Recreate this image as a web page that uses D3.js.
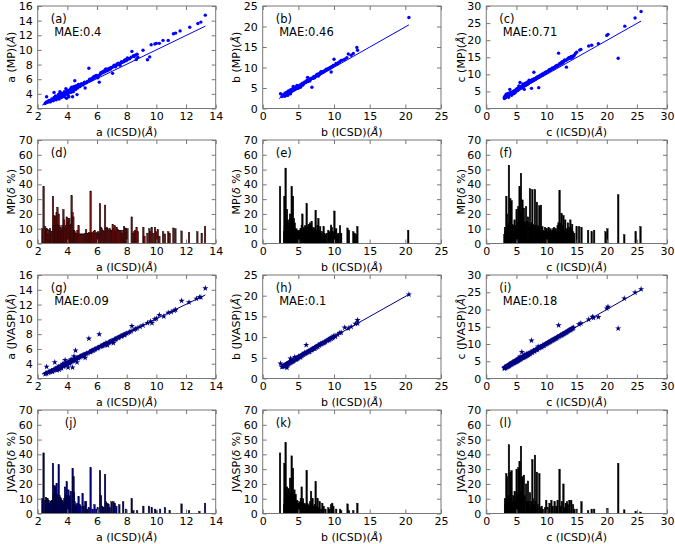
<!DOCTYPE html>
<html><head><meta charset="utf-8">
<script src="https://cdn.jsdelivr.net/npm/d3@7"></script>
<style>body{margin:0;background:#fff}svg{display:block}</style>
</head><body>
<svg id="c" width="675" height="544"></svg>
<script>
// ---------------- DATA ----------------
const ticksA = [2,4,6,8,10,12,14];
const ticksB = [0,5,10,15,20,25];
const ticksC = [0,5,10,15,20,25,30];
const ticksAY = [2,4,6,8,10,12,14,16];
const ticksPct = [0,10,20,30,40,50,60,70];
const axisNames = ["a","b","c"];
const panelLetters = ["(a)","(b)","(c)","(d)","(e)","(f)","(g)","(h)","(i)","(j)","(k)","(l)"];
const maeMP = ["MAE:0.4","MAE:0.46","MAE:0.71"];
const maeJV = ["MAE:0.09","MAE:0.1","MAE:0.18"];

// scatter: [ICSD, computed]
const mpA = [[2.5,2.7],[2.55,2.8],[2.6,3.6],[2.65,2.85],[2.7,2.9],[2.8,3.0],[2.85,2.9],[2.9,3.1],[3.0,3.2],[3.05,3.05],[3.1,4.2],[3.15,3.3],[3.2,3.4],[3.25,3.2],[3.3,3.6],[3.35,3.5],[3.4,3.9],[3.45,3.3],[3.5,3.7],[3.5,4.3],[3.55,3.8],[3.6,3.5],[3.65,4.0],[3.7,3.9],[3.75,4.1],[3.8,3.6],[3.85,4.2],[3.9,4.0],[3.9,4.7],[3.95,3.4],[4.0,4.1],[4.05,4.4],[4.1,4.2],[4.1,3.6],[4.15,4.5],[4.2,4.3],[4.25,4.8],[4.3,4.5],[4.35,3.6],[4.4,4.6],[4.45,5.0],[4.5,4.7],[4.5,5.8],[4.55,4.9],[4.6,4.8],[4.65,3.9],[4.7,5.0],[4.8,5.1],[4.9,5.2],[5.0,5.3],[5.1,5.4],[5.2,4.8],[5.3,5.6],[5.45,7.5],[5.5,5.8],[5.6,5.9],[5.7,6.0],[5.8,6.2],[5.9,6.3],[6.0,6.4],[6.1,6.5],[6.15,5.6],[6.2,6.6],[6.3,6.8],[6.35,7.0],[6.4,6.9],[6.5,7.0],[6.55,7.3],[6.6,7.1],[6.7,7.2],[6.8,7.3],[6.9,7.4],[7.0,7.6],[7.05,6.8],[7.1,7.7],[7.2,7.8],[7.3,7.9],[7.4,8.0],[7.5,8.1],[7.6,8.2],[7.7,8.3],[7.8,8.4],[7.9,8.5],[8.0,8.6],[8.05,8.9],[8.2,8.8],[8.35,9.8],[8.5,9.1],[8.6,9.3],[8.7,9.4],[8.75,9.0],[9.1,9.95],[9.4,8.65],[9.55,9.05],[9.65,10.7],[9.9,10.8],[10.0,10.9],[10.2,10.9],[10.45,11.3],[10.8,11.3],[11.15,12.2],[11.3,12.3],[11.6,12.6],[12.25,13.1],[12.8,13.6],[13.0,13.8],[13.3,14.75],
  [2.6,2.9],[2.75,3.1],[2.95,3.3],[3.1,3.5],[3.2,3.7],[3.3,3.4],[3.4,3.6],[3.45,4.0],[3.55,3.6],[3.6,4.1],[3.7,3.7],[3.8,4.3],[3.85,3.9],[3.95,4.2],[4.0,4.5],[4.05,3.8],[4.15,4.3],[4.2,4.6],[4.25,4.2],[4.3,4.9],[4.4,4.3],[4.45,4.7],[4.55,4.6],[4.6,5.1],[4.7,4.8],[4.75,5.3],[4.85,5.0],[4.95,5.4],[5.05,5.2],[5.15,5.6],[5.25,5.5],[5.35,5.7],[5.5,6.0],[5.65,6.1],[5.75,6.3],[5.85,6.4],[5.95,6.5],[6.05,6.2],[6.25,6.9],[6.45,7.1],[6.6,7.4],[6.75,7.4],[6.85,7.5],[6.95,7.6],[7.15,7.9],[7.25,7.7],[7.35,8.1],[7.45,8.2],[7.55,7.9],[7.65,8.4],[7.85,8.6],[7.95,8.7],[8.1,8.8],[8.3,9.0],[8.45,9.2],[8.65,8.7]];
const mpB = [[2.5,3.6],[2.7,2.9],[2.9,3.2],[3.0,3.5],[3.1,3.0],[3.2,3.4],[3.3,3.8],[3.4,3.5],[3.5,4.0],[3.5,3.2],[3.6,4.3],[3.7,3.9],[3.8,4.1],[3.9,4.5],[3.9,3.6],[4.0,4.2],[4.1,4.6],[4.2,4.4],[4.3,4.8],[4.3,5.4],[4.4,4.5],[4.5,5.0],[4.6,4.7],[4.7,5.2],[4.8,5.6],[4.9,4.9],[5.0,5.4],[5.2,5.5],[5.3,5.2],[5.4,5.8],[5.5,6.0],[5.6,5.7],[5.8,6.2],[5.9,6.5],[6.0,6.3],[6.2,6.6],[6.3,7.6],[6.4,6.8],[6.5,7.0],[6.6,6.7],[6.8,7.3],[6.9,5.2],[7.0,7.4],[7.2,7.7],[7.3,7.5],[7.4,7.9],[7.6,8.1],[7.7,8.3],[7.8,7.9],[8.0,8.5],[8.1,8.8],[8.3,8.7],[8.4,9.0],[8.6,9.1],[8.8,9.3],[9.0,9.5],[9.2,9.7],[9.4,9.8],[9.6,8.9],[9.7,10.2],[9.9,10.5],[10.0,12.0],[10.2,10.7],[10.5,10.9],[10.8,11.4],[11.0,11.7],[11.5,12.0],[12.0,13.3],[12.4,13.0],[12.7,13.4],[13.2,14.9],[13.3,14.2],[20.5,22.2],
  [2.8,3.3],[3.0,3.1],[3.1,3.6],[3.2,3.8],[3.3,3.3],[3.4,4.0],[3.5,3.7],[3.6,3.5],[3.7,4.2],[3.8,3.8],[3.9,4.1],[4.0,4.6],[4.1,4.2],[4.2,4.8],[4.3,4.5],[4.4,5.0],[4.5,4.7],[4.6,5.1],[4.7,4.9],[4.8,5.2],[4.9,5.5],[5.0,5.0],[5.1,5.5],[5.3,5.8],[5.5,5.8],[5.6,6.2],[5.7,6.0],[5.9,6.3],[6.1,6.5],[6.2,6.9],[6.3,6.6],[6.5,6.8],[6.6,7.1],[6.7,7.2],[6.9,7.4],[7.1,7.4],[7.2,7.8],[7.5,7.9],[7.6,8.3],[7.8,8.4],[7.9,8.2],[8.1,8.5],[8.2,9.0],[8.5,8.9],[8.7,9.2],[8.9,9.6],[9.1,9.5],[9.3,9.8],[9.5,10.1],[9.8,10.3],[10.3,11.0],[10.6,11.2],[11.2,11.8],[11.8,12.4]];
const mpC = [[3.0,2.9],[3.1,3.6],[3.2,3.2],[3.3,4.2],[3.4,3.5],[3.5,3.9],[3.6,4.4],[3.7,3.3],[3.8,4.1],[3.9,5.6],[4.0,4.3],[4.1,4.7],[4.2,3.9],[4.3,4.6],[4.5,5.0],[4.6,4.4],[4.7,5.2],[4.8,4.7],[4.9,5.4],[5.0,5.1],[5.1,5.8],[5.2,5.3],[5.3,6.0],[5.4,6.6],[5.5,5.7],[5.6,7.6],[5.7,6.2],[5.8,6.0],[5.9,6.5],[6.0,6.3],[6.1,7.2],[6.2,6.6],[6.3,5.6],[6.4,6.8],[6.5,7.4],[6.6,6.9],[6.7,7.0],[6.8,7.7],[6.9,7.2],[7.0,7.5],[7.1,8.3],[7.2,7.6],[7.4,7.8],[7.5,5.9],[7.6,8.1],[7.8,8.2],[7.9,10.6],[8.0,8.5],[8.2,8.7],[8.4,9.0],[8.6,9.1],[8.7,6.1],[8.8,9.4],[9.0,9.6],[9.2,9.7],[9.4,9.9],[9.6,10.2],[9.8,10.3],[10.0,10.6],[10.2,10.8],[10.4,11.0],[10.6,11.2],[10.8,11.5],[11.0,11.7],[11.2,11.8],[11.4,12.1],[11.6,12.3],[11.8,12.4],[12.0,16.2],[12.1,12.8],[12.3,13.1],[12.5,13.5],[12.7,13.3],[12.9,13.9],[13.1,14.0],[13.3,12.1],[13.4,14.3],[13.6,14.6],[13.8,14.8],[14.0,15.0],[14.2,14.8],[14.4,15.3],[14.6,15.6],[15.0,16.5],[15.5,17.1],[15.7,17.3],[17.0,18.3],[17.5,18.5],[18.6,19.0],[20.0,21.4],[20.2,21.7],[21.9,14.7],[23.0,24.1],[24.7,26.5],[25.7,28.4],
  [3.0,3.3],[3.1,3.1],[3.2,3.6],[3.3,3.4],[3.4,3.9],[3.5,3.6],[3.6,4.0],[3.7,3.8],[3.8,4.5],[3.9,4.0],[4.0,4.6],[4.1,4.3],[4.2,4.7],[4.3,4.3],[4.4,4.9],[4.5,4.6],[4.6,5.1],[4.7,4.8],[4.8,5.3],[4.9,5.0],[5.0,5.6],[5.1,5.3],[5.2,5.8],[5.3,5.5],[5.4,6.0],[5.5,6.2],[5.6,5.9],[5.7,6.4],[5.8,6.3],[5.9,6.1],[6.0,6.7],[6.1,6.4],[6.2,6.9],[6.3,6.6],[6.4,7.1],[6.5,6.9],[6.6,7.3],[6.7,7.2],[6.8,7.4],[6.9,7.6],[7.0,7.3],[7.1,7.8],[7.3,7.9],[7.4,8.1],[7.5,7.9],[7.6,8.4],[7.7,8.1],[7.8,8.6],[8.0,8.7],[8.1,8.5],[8.3,9.0],[8.5,9.3],[8.7,9.3],[8.9,9.7],[9.1,9.8],[9.3,10.1],[9.5,10.1],[9.7,10.5],[9.9,10.7],[10.1,10.7],[10.3,11.1],[10.5,11.4],[10.7,11.3],[10.9,11.8],[11.1,11.9],[11.3,12.0],[11.5,12.4],[11.7,12.6],[11.9,12.7],[12.2,13.2],[12.4,13.1],[12.6,13.7],[12.8,13.7],[13.0,14.2],[13.2,14.1],[13.5,14.5],[13.7,14.9],[13.9,14.7],[14.1,15.2],[14.3,15.0],[14.5,15.4],[14.8,16.1]];
const jvA = [[2.5,2.6],[2.55,2.7],[2.6,3.6],[2.7,2.8],[2.8,2.9],[2.9,3.0],[3.0,2.9],[3.1,3.2],[3.15,4.2],[3.2,3.3],[3.3,3.1],[3.35,3.4],[3.4,3.6],[3.45,3.2],[3.5,3.5],[3.55,3.7],[3.6,3.4],[3.65,3.8],[3.7,4.0],[3.75,3.6],[3.8,3.9],[3.85,4.5],[3.9,3.8],[3.95,4.0],[4.0,4.1],[4.05,3.5],[4.1,4.2],[4.15,4.0],[4.2,4.3],[4.25,4.6],[4.3,4.4],[4.35,3.5],[4.4,4.5],[4.45,5.0],[4.5,4.6],[4.55,5.8],[4.6,4.7],[4.65,4.2],[4.7,4.8],[4.8,4.9],[4.9,5.0],[5.0,5.1],[5.1,5.2],[5.2,4.8],[5.3,5.4],[5.45,7.4],[5.5,5.6],[5.6,5.7],[5.7,5.8],[5.8,5.9],[5.9,6.0],[6.0,6.1],[6.1,6.2],[6.15,8.0],[6.2,6.3],[6.3,6.4],[6.4,6.5],[6.5,6.6],[6.6,6.8],[6.7,6.5],[6.8,6.9],[6.9,7.0],[7.0,7.1],[7.1,6.8],[7.2,7.3],[7.3,7.4],[7.4,7.5],[7.5,7.6],[7.6,7.7],[7.7,7.8],[7.8,7.9],[7.9,8.0],[8.0,8.1],[8.2,8.3],[8.35,9.1],[8.5,8.6],[8.6,8.7],[8.7,8.8],[8.9,9.0],[9.1,9.2],[9.4,9.5],[9.6,9.7],[9.7,9.5],[9.9,10.0],[10.0,10.1],[10.2,10.6],[10.5,10.4],[10.8,10.9],[11.0,11.0],[11.2,11.2],[11.3,11.3],[11.7,12.5],[12.2,12.3],[12.7,12.8],[12.9,13.0],[13.0,13.0],[13.3,14.2],
  [2.6,2.7],[2.75,2.85],[2.95,3.05],[3.05,3.1],[3.15,3.25],[3.25,3.3],[3.35,3.5],[3.45,3.55],[3.5,3.4],[3.55,3.6],[3.6,3.7],[3.7,3.75],[3.75,3.85],[3.8,3.75],[3.85,3.95],[3.9,4.0],[3.95,4.05],[4.0,3.95],[4.05,4.15],[4.1,4.15],[4.15,4.25],[4.2,4.2],[4.25,4.35],[4.3,4.3],[4.35,4.45],[4.4,4.4],[4.45,4.55],[4.5,4.5],[4.6,4.65],[4.7,4.75],[4.75,4.8],[4.85,4.9],[4.95,5.0],[5.05,5.1],[5.15,5.2],[5.25,5.3],[5.4,5.45],[5.55,5.6],[5.65,5.75],[5.75,5.8],[5.85,5.95],[6.05,6.1],[6.25,6.35],[6.35,6.4],[6.45,6.55],[6.55,6.6],[6.65,6.7],[6.75,6.8],[6.85,6.95],[6.95,7.0],[7.05,7.1],[7.15,7.2],[7.25,7.3],[7.45,7.5],[7.65,7.7],[7.85,7.9],[8.1,8.2],[8.3,8.4]];
const jvB = [[2.5,3.6],[2.7,2.8],[2.9,3.0],[3.0,2.9],[3.1,3.2],[3.2,3.1],[3.3,3.4],[3.4,2.6],[3.5,3.6],[3.5,3.3],[3.6,3.7],[3.7,3.9],[3.8,3.7],[3.9,4.0],[3.9,4.8],[4.0,4.1],[4.1,4.3],[4.2,4.1],[4.3,4.4],[4.4,4.6],[4.5,5.2],[4.6,4.7],[4.7,4.6],[4.8,4.9],[4.9,5.0],[5.0,5.3],[5.2,5.3],[5.3,5.1],[5.4,5.6],[5.5,5.5],[5.6,5.8],[5.8,5.9],[5.9,6.2],[6.0,6.1],[6.1,8.1],[6.2,6.3],[6.4,6.5],[6.5,6.7],[6.6,6.5],[6.8,6.9],[6.9,7.0],[7.0,7.2],[7.2,7.3],[7.3,7.2],[7.4,7.6],[7.6,7.7],[7.7,7.8],[7.8,8.1],[8.0,8.1],[8.1,8.4],[8.3,8.4],[8.4,8.6],[8.6,8.7],[8.8,8.9],[9.0,9.1],[9.2,9.4],[9.4,9.5],[9.6,9.6],[9.7,9.9],[9.9,10.0],[10.0,10.3],[10.2,10.1],[10.5,10.6],[10.8,11.0],[11.0,11.1],[11.5,12.3],[12.0,12.1],[12.4,12.5],[13.0,13.2],[13.3,14.1],[13.3,13.3],[20.5,20.3],
  [2.8,2.9],[3.0,3.1],[3.1,3.1],[3.2,3.3],[3.3,3.3],[3.4,3.5],[3.5,3.5],[3.6,3.6],[3.7,3.7],[3.8,3.9],[3.9,3.9],[4.0,4.0],[4.1,4.1],[4.2,4.3],[4.3,4.3],[4.4,4.4],[4.5,4.6],[4.6,4.6],[4.7,4.8],[4.8,4.8],[4.9,4.9],[5.0,5.1],[5.1,5.2],[5.3,5.4],[5.5,5.7],[5.7,5.8],[5.9,6.0],[6.1,6.2],[6.3,6.4],[6.5,6.5],[6.7,6.8],[6.9,6.9],[7.1,7.2],[7.3,7.4],[7.5,7.5],[7.7,7.7],[7.9,8.0],[8.2,8.3],[8.5,8.6],[8.7,8.8],[9.1,9.2],[9.3,9.3],[9.5,9.7],[9.8,9.8]];
const jvC = [[3.0,2.9],[3.1,3.3],[3.2,3.1],[3.3,3.5],[3.4,3.3],[3.5,3.7],[3.6,3.5],[3.7,3.9],[3.8,3.7],[3.9,4.1],[4.0,4.0],[4.1,4.4],[4.2,4.1],[4.3,4.6],[4.5,4.4],[4.6,4.9],[4.7,4.6],[4.8,5.2],[4.9,4.8],[5.0,5.3],[5.1,5.0],[5.2,5.6],[5.3,5.2],[5.4,5.9],[5.5,5.4],[5.6,6.3],[5.7,5.6],[5.8,6.1],[5.9,7.7],[6.0,6.0],[6.1,6.4],[6.2,6.1],[6.3,6.9],[6.4,6.3],[6.5,6.7],[6.6,6.5],[6.7,7.1],[6.8,6.7],[6.9,7.2],[7.0,6.9],[7.1,7.4],[7.2,7.1],[7.4,7.6],[7.5,11.0],[7.6,7.5],[7.8,8.1],[8.0,7.9],[8.2,8.4],[8.4,8.3],[8.6,9.3],[8.8,8.9],[9.0,9.2],[9.2,9.1],[9.4,9.6],[9.6,9.5],[9.8,10.0],[10.0,10.1],[10.2,10.3],[10.4,10.5],[10.6,10.7],[10.8,11.0],[11.0,11.1],[11.2,11.3],[11.4,11.6],[11.6,11.7],[11.8,12.0],[12.0,15.4],[12.1,12.2],[12.3,12.5],[12.5,12.6],[12.7,12.9],[12.9,13.0],[13.1,13.3],[13.3,13.4],[13.5,13.7],[13.7,13.9],[13.9,14.1],[14.1,14.3],[14.3,14.5],[14.5,14.8],[15.4,15.7],[15.7,16.0],[17.0,17.1],[17.6,17.9],[17.8,17.6],[18.6,17.8],[20.0,20.3],[20.2,20.8],[21.9,14.5],[22.9,23.2],[24.7,24.9],[25.7,25.9],
  [3.0,3.1],[3.1,3.1],[3.2,3.3],[3.3,3.3],[3.4,3.5],[3.5,3.5],[3.6,3.7],[3.7,3.7],[3.8,3.9],[3.9,3.9],[4.0,4.2],[4.1,4.1],[4.2,4.3],[4.3,4.3],[4.4,4.5],[4.5,4.6],[4.6,4.6],[4.7,4.8],[4.8,4.8],[4.9,5.0],[5.0,5.0],[5.1,5.2],[5.2,5.2],[5.3,5.4],[5.4,5.4],[5.5,5.6],[5.6,5.6],[5.7,5.8],[5.8,5.8],[5.9,6.0],[6.0,6.1],[6.1,6.1],[6.2,6.3],[6.3,6.3],[6.4,6.5],[6.5,6.5],[6.6,6.7],[6.7,6.7],[6.8,6.9],[6.9,6.9],[7.0,7.1],[7.2,7.3],[7.3,7.3],[7.5,7.6],[7.7,7.7],[7.9,8.0],[8.1,8.2],[8.3,8.4],[8.5,8.5],[8.7,8.8],[8.9,9.0],[9.1,9.2],[9.3,9.4],[9.5,9.6],[9.7,9.8],[9.9,10.0],[10.1,10.2],[10.3,10.4],[10.5,10.6],[10.7,10.8],[10.9,11.0],[11.1,11.2],[11.3,11.4],[11.5,11.6],[11.7,11.8],[11.9,12.0],[12.2,12.3],[12.4,12.5],[12.6,12.7],[12.8,12.9],[13.0,13.1],[13.2,13.3],[13.4,13.5],[13.6,13.8],[13.8,14.0],[14.0,14.1],[14.2,14.4],[14.4,14.6]];

// fitted lines: [start, end]
const fitMpA = [[2.3,2.45],[13.3,13.25]];
const fitMpB = [[2.3,2.45],[20.5,20.4]];
const fitMpC = [[2.9,2.9],[25.7,25.6]];
const fitJvA = [[2.3,2.6],[13.3,13.3]];
const fitJvB = [[2.45,2.8],[20.5,20.3]];
const fitJvC = [[3.0,3.0],[25.7,25.7]];

// bars: [ICSD value, delta %]
const barMpA = [[2.31,10],[2.40,38.5],[2.5,11.5],[2.55,9],[2.6,10],[2.67,9.5],[2.72,6],[2.78,9],[2.83,10],[2.9,6],[2.95,8],[3.03,32],[3.08,12],[3.12,19],[3.17,18.5],[3.22,12],[3.28,21],[3.33,24.5],[3.38,13],[3.42,20],[3.47,12],[3.52,11],[3.57,10],[3.62,9],[3.67,12],[3.73,23],[3.78,16],[3.83,10],[3.9,12],[3.96,18],[4.01,14],[4.07,17],[4.13,17],[4.18,12],[4.24,13],[4.29,32.5],[4.35,21],[4.4,18],[4.45,9],[4.5,8],[4.55,7],[4.62,7],[4.68,9],[4.76,12],[4.82,6.5],[4.9,6.5],[4.97,6.5],[5.05,6.5],[5.12,6.5],[5.2,7],[5.26,9.5],[5.33,7],[5.4,7],[5.47,7.5],[5.57,35.5],[5.63,7],[5.7,7.5],[5.78,8],[5.85,9],[5.92,7],[6.0,7.5],[6.07,8],[6.13,7],[6.2,27],[6.27,11],[6.33,10],[6.4,9],[6.47,8],[6.54,26],[6.6,10],[6.67,11],[6.73,10],[6.8,9],[6.87,10],[6.95,9],[7.0,9],[7.06,13],[7.13,10],[7.2,12],[7.27,8],[7.33,11],[7.4,9.5],[7.47,9],[7.55,9],[7.62,9],[7.7,7],[7.76,9],[7.82,11.5],[7.9,10.5],[7.96,10],[8.05,10],[8.34,18],[8.42,7],[8.5,8],[8.58,9],[8.67,11],[8.75,8],[9.12,11],[9.2,5],[9.4,7],[9.53,10],[9.6,8],[9.69,11],[9.8,7],[9.91,11],[10.0,8],[10.1,9.5],[10.2,5],[10.45,8],[10.58,6.5],[10.8,8],[10.9,7],[11.15,10.5],[11.28,10],[11.7,8.5],[12.2,7.5],[12.76,8],[13.06,7],[13.28,11.5]];
const barMpB = [[2.43,38.5],[3.0,8],[3.04,32],[3.1,12],[3.15,7],[3.22,51],[3.3,15],[3.36,10],[3.41,23],[3.47,12],[3.55,16],[3.62,11],[3.7,14],[3.76,9],[3.83,20],[3.9,17],[3.96,12],[4.02,16],[4.07,38.5],[4.13,17],[4.19,13],[4.25,32],[4.31,12],[4.38,17],[4.44,10],[4.5,14],[4.58,9],[4.65,8],[4.72,10],[4.8,7],[4.88,8],[4.95,9],[5.02,8],[5.1,7],[5.18,9],[5.25,8],[5.32,10],[5.4,9],[5.48,12],[5.56,20],[5.63,9],[5.7,11],[5.78,8],[5.86,10],[5.94,12],[6.02,11],[6.1,9],[6.17,27],[6.25,12],[6.33,10],[6.4,11],[6.48,13],[6.56,10],[6.63,14],[6.7,9],[6.78,12],[6.87,15],[6.95,10],[7.03,8],[7.1,11],[7.2,9],[7.3,10],[7.43,22.5],[7.5,9],[7.6,8],[7.7,12],[7.8,17],[7.9,9],[8.0,8],[8.05,11.5],[8.15,7],[8.3,8],[8.4,6],[8.55,11.5],[8.65,7],[8.8,6],[9.0,7],[9.2,9],[9.35,8],[9.45,7],[9.58,12.5],[9.7,11],[9.85,8],[9.95,7],[10.05,22],[10.15,9],[10.3,10],[10.45,6],[10.6,7],[10.84,12],[11.0,7],[11.9,10.5],[12.1,9],[12.7,8],[12.9,7],[13.1,6],[13.27,11.5],[20.4,9]];
const barMpC = [[3.0,6],[3.1,11],[3.2,8],[3.32,32],[3.43,20],[3.5,10],[3.6,12],[3.68,9],[3.76,53],[3.87,14],[3.98,30.5],[4.05,12],[4.2,29],[4.3,13],[4.45,12.5],[4.55,8],[4.7,16],[4.8,10],[4.9,12],[5.04,23],[5.15,14],[5.3,25],[5.4,18],[5.53,38.5],[5.65,22],[5.76,47.5],[5.88,20],[6.0,29.5],[6.1,18],[6.25,24],[6.35,15],[6.48,12],[6.6,25],[6.75,15],[6.92,18],[7.1,14],[7.25,37],[7.35,12],[7.5,14],[7.64,36.5],[7.75,13],[7.9,12],[8.08,36.5],[8.2,12],[8.3,10],[8.4,28],[8.55,10],[8.65,12],[8.8,25.5],[8.95,9],[9.08,26],[9.2,8],[9.3,11.5],[9.45,9],[9.6,8],[9.75,11],[9.9,9],[10.05,10],[10.2,8],[10.35,11],[10.5,9],[10.65,10],[10.8,8],[10.95,9],[11.1,10],[11.25,11],[11.4,9],[11.55,10],[11.7,8],[11.85,12],[12.0,14],[12.17,36],[12.3,14],[12.5,20.5],[12.65,12],[12.8,19],[12.95,9],[13.1,16],[13.25,8],[13.4,10],[13.55,14],[13.7,9],[13.8,11],[13.95,16],[14.1,10],[14.25,13],[14.4,8],[14.6,7],[15.0,11.5],[15.4,11.5],[15.8,11],[16.9,9],[17.5,8],[17.9,9],[19.8,8],[20.1,10],[21.9,33],[22.9,6],[24.8,8],[25.6,11.5]];
const barJvA = [[2.31,10],[2.4,41],[2.5,9],[2.56,11],[2.62,10],[2.67,10],[2.74,9],[2.8,7],[2.88,8],[2.95,9],[3.03,34],[3.08,12],[3.12,19],[3.17,18.5],[3.22,17],[3.28,20.5],[3.33,13],[3.42,33],[3.47,12],[3.52,11],[3.58,10],[3.65,9],[3.72,8],[3.79,10],[3.84,18],[3.9,12],[3.96,21.5],[4.02,12],[4.07,16],[4.13,12],[4.18,10],[4.24,15],[4.36,30.5],[4.42,25],[4.45,14],[4.5,8],[4.56,5],[4.62,6],[4.68,7],[4.76,11.5],[4.85,6],[4.9,5],[5.03,13.5],[5.1,5],[5.2,8],[5.26,8],[5.35,3],[5.45,4],[5.57,31],[5.7,3],[5.83,6],[5.95,3],[6.05,4],[6.2,29],[6.27,12],[6.35,5],[6.45,4],[6.54,26.5],[6.6,8],[6.7,7],[6.78,6],[6.86,4],[6.98,8],[7.1,8],[7.2,7],[7.3,5],[7.5,6],[7.76,8],[7.95,3],[8.34,10],[8.45,2],[8.7,2],[9.12,5],[9.5,5],[9.69,4],[9.91,3],[10.0,2],[10.25,3],[10.58,4],[10.9,2],[11.7,6.5],[12.2,2],[12.9,1.5],[13.28,7]];
const barJvB = [[2.43,41],[3.0,6],[3.04,34],[3.1,10],[3.15,8],[3.22,48],[3.3,14],[3.41,18],[3.5,12],[3.6,17],[3.7,10],[3.83,24],[3.9,14],[3.96,12],[4.07,39],[4.13,14],[4.25,30.5],[4.3,12],[4.44,16],[4.5,10],[4.63,13],[4.7,8],[4.83,9],[4.95,7],[5.05,6],[5.15,8],[5.25,7],[5.35,10],[5.47,18],[5.55,8],[5.65,10],[5.75,6],[5.86,7],[5.95,6],[6.05,5],[6.17,29],[6.25,7],[6.4,6],[6.55,5],[6.65,8],[6.78,15],[6.9,6],[7.0,10],[7.15,5],[7.3,6],[7.43,21.5],[7.55,5],[7.7,10],[7.85,4],[8.0,8],[8.2,3],[8.35,7],[8.55,5],[8.8,3],[9.2,4],[9.35,3],[9.58,6],[9.75,7],[9.9,5],[10.3,3],[10.84,3],[11.0,2],[11.9,6.5],[12.1,2],[12.7,2],[13.27,7]];
const barJvC = [[3.1,10],[3.2,6],[3.32,27],[3.43,25],[3.55,8],[3.65,12],[3.76,46.5],[3.87,10],[3.98,28],[4.08,12],[4.2,29],[4.32,8],[4.45,12],[4.6,9],[4.72,15],[4.85,8],[5.0,14],[5.04,30],[5.15,12],[5.32,31],[5.42,12],[5.53,35],[5.65,14],[5.76,45.5],[5.88,15],[6.0,25],[6.1,10],[6.25,26],[6.38,12],[6.6,20],[6.75,8],[6.92,22],[7.05,8],[7.25,14],[7.4,5],[7.5,8],[7.64,36.5],[7.75,10],[7.9,6],[8.08,39.5],[8.2,8],[8.4,28],[8.55,6],[8.8,27],[8.95,4],[9.2,5],[9.4,3],[9.75,4],[9.95,9],[10.2,4],[10.5,7],[10.8,9],[11.05,5],[11.35,8],[11.6,5],[11.85,9],[12.17,30],[12.35,5],[12.55,8],[12.8,20],[12.95,4],[13.2,7],[13.4,8],[13.55,6],[13.8,9],[14.1,9],[14.4,6],[14.6,3],[15.0,3],[15.8,8],[16.9,2],[17.5,3],[17.9,3],[20.1,3.5],[21.9,34],[22.9,2.5],[24.8,1.5],[25.6,1]];

// ---------------- LAYOUT ----------------
const FONT = "'DejaVu Sans', Verdana, sans-serif";
const colL = [37.7, 262.7, 486.3], colR = [215.7, 441, 667];
const rowT = [6, 140, 275, 410], PH = 103.5;
const rowH = [102.5, PH, PH, PH];
const frameColor = "#777";
const xDomains = [[2,14],[0,25],[0,30]];
const xTickSets = [ticksA, ticksB, ticksC];
const yScatterDomains = [[2,16],[0,25],[0,30]];
const yScatterTicks = [ticksAY, ticksB, ticksC];

const svg = d3.select("#c");

function labelParts(sel, parts) {
  parts.forEach(([t, it]) => {
    const ts = sel.append("tspan").text(t);
    if (it) ts.attr("font-style", "italic");
  });
}

function makeAxes(g, x, y, xt, yt, col, row, xlab, ylab) {
  const [x0, x1] = x.range();
  const yb = y.range()[0], yt0 = y.range()[1];
  const ax = g.append("g").attr("transform", `translate(0,${yb})`)
    .call(d3.axisBottom(x).tickValues(xt).tickSize(-4).tickPadding(4).tickFormat(d => String(d)));
  const ay = g.append("g").attr("transform", `translate(${x0},0)`)
    .call(d3.axisLeft(y).tickValues(yt).tickSize(-4).tickPadding(5).tickFormat(d => String(d)));
  const axT = g.append("g").attr("transform", `translate(0,${yt0})`)
    .call(d3.axisTop(x).tickValues(xt).tickSize(-4).tickFormat(""));
  const ayR = g.append("g").attr("transform", `translate(${x1},0)`)
    .call(d3.axisRight(y).tickValues(yt).tickSize(-4).tickFormat(""));
  [ax, ay, axT, ayR].forEach(a => {
    a.select(".domain").remove();
    a.selectAll(".tick line").attr("stroke", frameColor);
    a.selectAll("text").attr("font-family", FONT).attr("font-size", 11).attr("fill", "#000");
  });
  g.append("rect").attr("x", x0).attr("y", yt0).attr("width", x1 - x0).attr("height", yb - yt0)
    .attr("fill", "none").attr("stroke", frameColor).attr("stroke-width", 1);
  const tx = g.append("text").attr("x", (x0 + x1) / 2).attr("y", yb + 27)
    .attr("text-anchor", "middle").attr("font-family", FONT).attr("font-size", 11).attr("fill", "#000");
  labelParts(tx, xlab);
  const lx = x0 - (col === 2 ? 25.5 : 27);
  const ly = (yb + yt0) / 2;
  const ty = g.append("text").attr("transform", `translate(${lx},${ly}) rotate(-90)`)
    .attr("text-anchor", "middle").attr("dominant-baseline", "central")
    .attr("font-family", FONT).attr("font-size", 11).attr("fill", "#000");
  labelParts(ty, ylab);
}

function annot(g, x0, yt0, letter, mae, letterDx) {
  g.append("text").attr("x", x0 + letterDx).attr("y", yt0 + 17).text(letter)
    .attr("font-family", FONT).attr("font-size", 11.5).attr("fill", "#000");
  if (mae) g.append("text").attr("x", x0 + 16.5).attr("y", yt0 + 30).text(mae)
    .attr("font-family", FONT).attr("font-size", 11.5).attr("fill", "#000");
}

function scatterPanel(row, col, pts, fit, src, color, star, letter, mae) {
  const g = svg.append("g");
  const x = d3.scaleLinear().domain(xDomains[col]).range([colL[col], colR[col]]);
  const y = d3.scaleLinear().domain(yScatterDomains[col]).range([rowT[row] + rowH[row], rowT[row]]);
  const nm = axisNames[col];
  const line = d3.line().x(d => x(d[0])).y(d => y(d[1]));
  g.append("path").attr("d", line(fit)).attr("fill", "none").attr("stroke", color).attr("stroke-width", 1);
  if (star) {
    g.selectAll("path.pt").data(pts).join("path").attr("class", "pt")
      .attr("transform", d => `translate(${x(d[0])},${y(d[1])})`)
      .attr("d", d3.symbol(d3.symbolStar, 12)).attr("fill", color);
  } else {
    g.selectAll("circle").data(pts).join("circle")
      .attr("cx", d => x(d[0])).attr("cy", d => y(d[1])).attr("r", 1.7).attr("fill", color);
  }
  makeAxes(g, x, y, xTickSets[col], yScatterTicks[col], col, row,
    [[nm + " (ICSD)(", false], ["Å", true], [")", false]],
    [[nm + " (" + src + ")(", false], ["Å", true], [")", false]]);
  annot(g, colL[col], rowT[row], letter, mae, 13);
}

function barPanel(row, col, bars, src, fill, letter, letterDx) {
  const g = svg.append("g");
  const x = d3.scaleLinear().domain(xDomains[col]).range([colL[col], colR[col]]);
  const y = d3.scaleLinear().domain([0, 70]).range([rowT[row] + rowH[row], rowT[row]]);
  const nm = axisNames[col];
  g.selectAll("rect.bar").data(bars).join("rect").attr("class", "bar")
    .attr("x", d => x(d[0]) - 0.8).attr("width", 1.6)
    .attr("y", d => y(d[1])).attr("height", d => y(0) - y(d[1]))
    .attr("fill", fill).attr("stroke", "#000").attr("stroke-width", 0.4);
  makeAxes(g, x, y, xTickSets[col], ticksPct, col, row,
    [[nm + " (ICSD)(", false], ["Å", true], [")", false]],
    [[src + "(", false], ["δ", true], [" %)", false]]);
  annot(g, colL[col], rowT[row], letter, null, letterDx);
}

const MPBLUE = "#0000ff", NAVY = "#000080";
scatterPanel(0, 0, mpA, fitMpA, "MP", MPBLUE, false, panelLetters[0], maeMP[0]);
scatterPanel(0, 1, mpB, fitMpB, "MP", MPBLUE, false, panelLetters[1], maeMP[1]);
scatterPanel(0, 2, mpC, fitMpC, "MP", MPBLUE, false, panelLetters[2], maeMP[2]);
barPanel(1, 0, barMpA, "MP", "#7a0e0e", panelLetters[3], 13);
barPanel(1, 1, barMpB, "MP", "#000", panelLetters[4], 13);
barPanel(1, 2, barMpC, "MP", "#000", panelLetters[5], 13);
scatterPanel(2, 0, jvA, fitJvA, "JVASP", NAVY, true, panelLetters[6], maeJV[0]);
scatterPanel(2, 1, jvB, fitJvB, "JVASP", NAVY, true, panelLetters[7], maeJV[1]);
scatterPanel(2, 2, jvC, fitJvC, "JVASP", NAVY, true, panelLetters[8], maeJV[2]);
barPanel(3, 0, barJvA, "JVASP", NAVY, panelLetters[9], 27);
barPanel(3, 1, barJvB, "JVASP", "#000", panelLetters[10], 13);
barPanel(3, 2, barJvC, "JVASP", "#000", panelLetters[11], 13);
</script></body></html>
